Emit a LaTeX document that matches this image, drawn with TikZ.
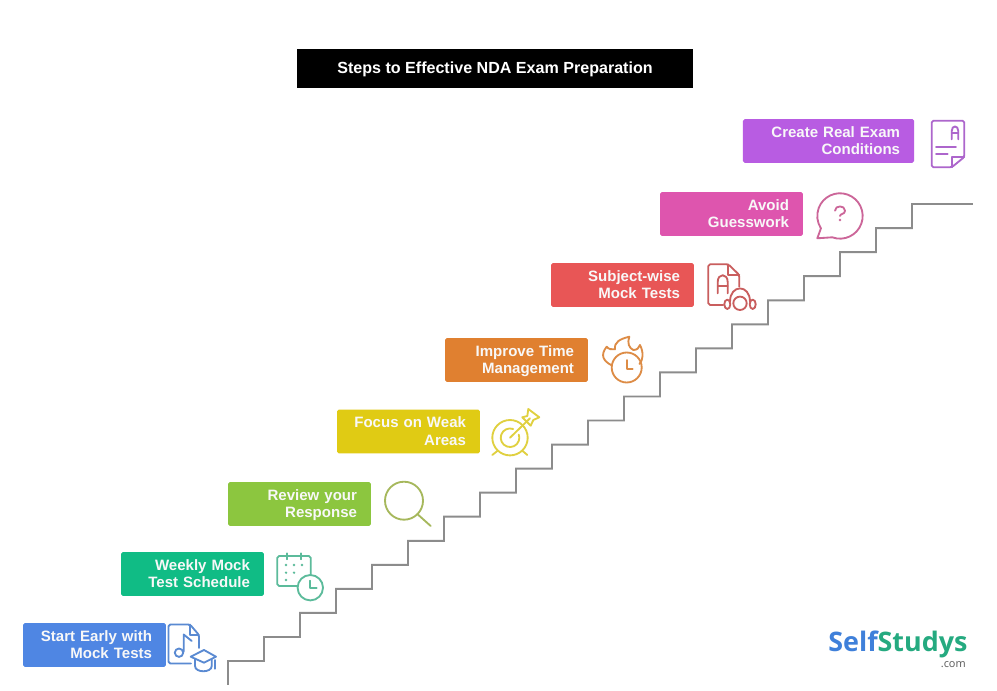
\documentclass[tikz,border=0pt]{standalone}
\usepackage{fontspec}
\usepackage{tikz}
\setmainfont{Liberation Sans}
\newfontfamily\logofont{Open Sans}
\definecolor{startblue}{HTML}{4F86E3}
\definecolor{weeklygreen}{HTML}{10BC85}
\definecolor{reviewlime}{HTML}{8CC63F}
\definecolor{focusyellow}{HTML}{E0CB14}
\definecolor{timeorange}{HTML}{E08030}
\definecolor{subjectred}{HTML}{E85656}
\definecolor{avoidpink}{HTML}{DE55AE}
\definecolor{realpurple}{HTML}{B85CE2}
\definecolor{startline}{HTML}{5A8AD2}
\definecolor{weeklyline}{HTML}{5CBB9B}
\definecolor{reviewline}{HTML}{A6B85C}
\definecolor{focusline}{HTML}{E0D040}
\definecolor{timeline}{HTML}{DD8C46}
\definecolor{subjectline}{HTML}{C95E5E}
\definecolor{avoidline}{HTML}{CC6699}
\definecolor{realline}{HTML}{AD66CC}
\definecolor{stairgray}{HTML}{8C8C8C}
\definecolor{logoblue}{HTML}{3F80DA}
\definecolor{logogreen}{HTML}{25AA80}
\definecolor{textwhite}{HTML}{F8F8F8}

\begin{document}
\begin{tikzpicture}[scale=0.2]
	\tikzstyle{every node}+=[inner sep=0pt]
	\tikzstyle{stepbox}=[rounded corners=1pt, minimum height=25pt, inner xsep=7.97pt, text width=65.4pt, text height=6.6pt, text depth=11.1pt, align=right, text=textwhite, font=\bfseries\fontsize{8.55}{10.2}\selectfont]
	\tikzstyle{iconline}=[line width=1.05pt, line join=round, line cap=round]
	\useasboundingbox (0,0) rectangle (99.7,-69.1);
	\fill [white] (0,0) rectangle (99.7,-69.1);
	\node (title) [fill=black, minimum width=225.3pt, minimum height=22.1pt, text height=6.6pt, text depth=0.4pt, text=white, font=\bfseries\fontsize{9.15}{10.2}\selectfont] at (49.5,-6.85) {Steps to Effective NDA Exam Preparation};
	% stairs
	\coordinate (stairbottom) at (22.8,-68.5);
	\coordinate (stairtop) at (97.3,-20.4);
	\draw [stairgray, line width=1.1pt] (stairbottom) -- (22.8,-66.1) -| (26.4,-63.7) -| (30,-61.29) -| (33.6,-58.89) -| (37.2,-56.48) -| (40.8,-54.08) -| (44.4,-51.67) -| (48,-49.27) -| (51.6,-46.86) -| (55.2,-44.46) -| (58.8,-42.05) -| (62.4,-39.65) -| (66,-37.24) -| (69.6,-34.84) -| (73.2,-32.43) -| (76.8,-30.03) -| (80.4,-27.62) -| (84,-25.22) -| (87.6,-22.81) -| (91.2,-20.4) -- (stairtop);
	% boxes
	\node (startbox) [stepbox, fill=startblue] at (9.45,-64.5) {Start Early with\\Mock Tests};
	\node (weeklybox) [stepbox, fill=weeklygreen] at (19.25,-57.4) {Weekly Mock\\Test Schedule};
	\node (reviewbox) [stepbox, fill=reviewlime] at (29.95,-50.4) {Review your\\Response};
	\node (focusbox) [stepbox, fill=focusyellow] at (40.85,-43.15) {Focus on Weak\\Areas};
	\node (timebox) [stepbox, fill=timeorange] at (51.65,-36) {Improve Time\\Management};
	\node (subjectbox) [stepbox, fill=subjectred] at (62.25,-28.5) {Subject-wise\\Mock Tests};
	\node (avoidbox) [stepbox, fill=avoidpink] at (73.15,-21.4) {Avoid\\Guesswork};
	\node (realbox) [stepbox, fill=realpurple, text width=81.4pt] at (82.85,-14.1) {Create Real Exam\\Conditions};
	% start icon
	\draw [startline, iconline, rounded corners=1pt] (19.1,-66.35) -- (16.85,-66.35) -- (16.85,-62.45) -- (19,-62.45) -- (19.9,-63.5) -- (19.9,-64.8);
	\draw [startline, iconline] (19,-62.45) -- (19,-63.5) -- (19.9,-63.5);
	\draw [startline, iconline] (17.9,-65.27) circle (0.42);
	\draw [startline, iconline] (18.37,-65.15) -- (18.37,-63.45) -- (19.17,-64.1);
	\draw [startline, iconline] (20.4,-65) -- (21.6,-65.67) -- (20.4,-66.27) -- (19.07,-65.67) -- cycle;
	\draw [startline, iconline] (19.5,-65.93) -- (19.5,-66.6) .. controls (19.5,-67.3) and (21.17,-67.3) .. (21.17,-66.6) -- (21.17,-65.93);
	\draw [startline, iconline, dash pattern=on 5pt off 2pt] (21.5,-66) -- (21.5,-67.1);
	% weekly icon
	\draw [weeklyline, iconline, rounded corners=1pt] (29.77,-58.6) -- (27.73,-58.6) -- (27.73,-55.6) -- (31.07,-55.6) -- (31.07,-57.5);
	\draw [weeklyline, iconline] (28.67,-55.33) -- (28.67,-55.93);
	\draw [weeklyline, iconline] (30.1,-55.33) -- (30.1,-55.93);
	\fill [weeklyline] (28.6,-56.5) circle (0.13);
	\fill [weeklyline] (29.4,-56.5) circle (0.13);
	\fill [weeklyline] (30.2,-56.5) circle (0.13);
	\fill [weeklyline] (28.6,-57.27) circle (0.13);
	\fill [weeklyline] (29.4,-57.27) circle (0.13);
	\fill [weeklyline] (28.6,-58) circle (0.13);
	\draw [weeklyline, iconline] (31.03,-58.77) circle (1.27);
	\draw [weeklyline, iconline] (31.03,-58.07) -- (31.03,-58.77) -- (31.67,-58.77);
	% review icon
	\draw [reviewline, iconline] (40.4,-50.07) circle (1.9);
	\draw [reviewline, iconline] (41.73,-51.4) -- (43.07,-52.6);
	% focus icon
	\draw [focusline, iconline] (51,-43.77) circle (1.77);
	\draw [focusline, iconline] (51.32,-42.9) arc (70:380:0.93);
	\draw [focusline, iconline] (51,-43.77) -- (53,-41.83);
	\draw [focusline, iconline] (52.83,-40.9) -- (53.93,-41.73) -- (53.33,-42) -- (53.07,-42.57) -- (52.23,-41.73) -- (52.73,-41.6) -- cycle;
	\draw [focusline, iconline] (49.23,-45.5) -- (49.77,-45.07);
	\draw [focusline, iconline] (52.73,-45.5) -- (52.23,-45.07);
	% time icon
	\draw [timeline, iconline] (62.67,-36.75) circle (1.5);
	\draw [timeline, iconline] (62.67,-36) -- (62.67,-36.9) -- (63.27,-36.9);
	\draw [timeline, iconline] (61.2,-36.55) .. controls (60.3,-36.1) and (60,-35.5) .. (60.67,-34.67) .. controls (60.8,-34.9) and (61.2,-35) .. (61.5,-34.93) .. controls (61.4,-34.2) and (62,-33.9) .. (62.93,-33.67) .. controls (62.7,-34.3) and (62.9,-34.8) .. (63.33,-35) .. controls (63.7,-35) and (63.9,-34.8) .. (64,-34.5) .. controls (64.4,-35.3) and (64.3,-36) .. (63.95,-36.4);
	% subject icon
	\draw [subjectline, iconline, rounded corners=1pt] (72.33,-30.5) -- (70.83,-30.5) -- (70.83,-26.43) -- (72.83,-26.43) -- (73.93,-27.5) -- (73.93,-28.67);
	\draw [subjectline, iconline] (72.83,-26.43) -- (72.83,-27.5) -- (73.93,-27.5);
	\draw [subjectline, iconline] (71.77,-29.33) -- (71.77,-28.2) .. controls (71.77,-27.3) and (72.77,-27.3) .. (72.77,-28.2) -- (72.77,-29.33);
	\draw [subjectline, iconline] (71.77,-28.6) -- (72.77,-28.6);
	\draw [subjectline, iconline] (74,-30.33) circle (0.67);
	\draw [subjectline, iconline] (73,-30.17) .. controls (73,-28.4) and (75,-28.4) .. (75,-30.17);
	\draw [subjectline, iconline] (72.73,-30.43) ellipse (0.3 and 0.47);
	\draw [subjectline, iconline] (75.27,-30.43) ellipse (0.3 and 0.47);
	% avoid icon
	\draw [avoidline, iconline] (83.22,-23.73) arc (250:573:2.27) -- (81.73,-23.83) -- cycle;
	\draw [avoidline, iconline] (83.5,-21.07) .. controls (83.5,-20.5) and (84.5,-20.5) .. (84.5,-21.07) .. controls (84.5,-21.45) and (84,-21.35) .. (84,-21.6);
	\fill [avoidline] (84,-22) circle (0.13);
	% real icon
	\draw [realline, iconline, rounded corners=1pt] (96.43,-15.7) -- (96.43,-12.07) -- (93.17,-12.07) -- (93.17,-16.73) -- (95.17,-16.73) -- cycle;
	\draw [realline, iconline] (95.17,-16.73) -- (95.17,-15.73) -- (96.43,-15.73);
	\draw [realline, iconline] (95.17,-13.93) -- (95.17,-13.1) .. controls (95.17,-12.5) and (95.83,-12.5) .. (95.83,-13.1) -- (95.83,-13.93);
	\draw [realline, iconline] (95.17,-13.33) -- (95.83,-13.33);
	\draw [realline, iconline] (93.6,-14.67) -- (95.6,-14.67);
	\draw [realline, iconline] (93.6,-15.43) -- (94.77,-15.43);
	% logo
	\node (logo) [anchor=base west, font=\logofont\bfseries\fontsize{15.3}{18}\selectfont] at (82.8,-65.17) {\textcolor{logoblue}{Self}\textcolor{logogreen}{Studys}};
	\node (logocom) [anchor=base east, text=black!65, font=\logofont\fontsize{6.2}{8}\selectfont] at (96.6,-66.73) {.com};
\end{tikzpicture}
\end{document}
